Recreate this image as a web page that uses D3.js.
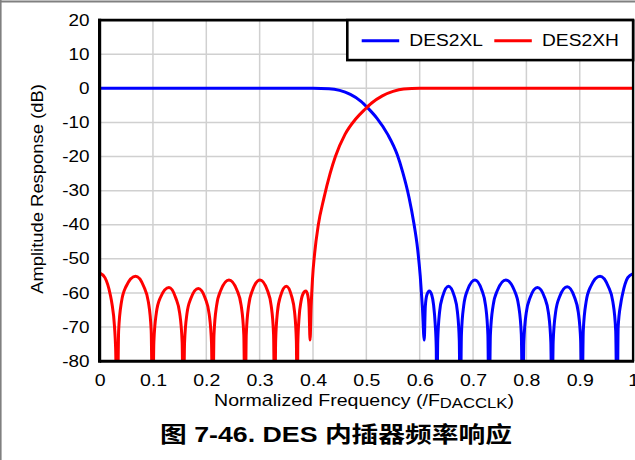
<!DOCTYPE html>
<html>
<head>
<meta charset="utf-8">
<script src="https://cdn.jsdelivr.net/npm/d3@7/dist/d3.min.js"></script>
<style>
  body { margin: 0; background: #fff; }
  svg { display: block; }
  text { font-family: "Liberation Sans", Arial, sans-serif; fill: #000; }
</style>
</head>
<body>
<div id="chart"></div>
<script>

// svg variables
var width = 635,
    height = 460;

var margin = {top: 20.1, right: 633.1, bottom: 361.2, left: 99.6};

// glyphs in the picture are a bit wider than Arial
var stretch = 1.15;

// data variables

var xTicks = [0, 0.1, 0.2, 0.3, 0.4, 0.5, 0.6, 0.7, 0.8, 0.9, 1];
var xLabels = ["0", "0.1", "0.2", "0.3", "0.4", "0.5", "0.6", "0.7", "0.8", "0.9", "1"];
var yTicks = [-80, -70, -60, -50, -40, -30, -20, -10, 0, 10, 20];
var yLabels = ["-80", "-70", "-60", "-50", "-40", "-30", "-20", "-10", "0", "10", "20"];

var seriesNames = ["DES2XL", "DES2XH"];
var seriesColors = ["#0000ff", "#ff0000"];

// DES2XL, [normalized freq, dB] (-100 = null below the axis)
var des2xl = [
  [0, 0], [0.1, 0], [0.2, 0], [0.3, 0], [0.4, 0], [0.43, -0.1], [0.45, -0.6],
  [0.47, -1.8], [0.49, -3.8], [0.503, -5.8], [0.52, -8.8], [0.54, -13.5],
  [0.558, -19.5], [0.568, -24.5], [0.58, -32], [0.589, -39.5], [0.596, -47],
  [0.601, -55], [0.605, -64], [0.6085, -73.8],
  [0.6105, -64], [0.6135, -60.5], [0.618, -59.4], [0.6225, -60.5], [0.626, -63.5], [0.629, -69], [0.631, -76], [0.632, -100],
  [0.6338, -74], [0.6373, -65.5], [0.643, -61], [0.654, -58], [0.665, -61], [0.6707, -65.5], [0.6742, -74], [0.676, -100],
  [0.6782, -72.2], [0.6825, -63.7], [0.6895, -59.2], [0.7035, -56.2], [0.7165, -59.2], [0.7235, -63.7], [0.7278, -72.2], [0.730, -100],
  [0.7325, -72.2], [0.7376, -63.7], [0.7458, -59.2], [0.7615, -56.2], [0.7773, -59.2], [0.7854, -63.7], [0.7905, -72.2], [0.793, -100],
  [0.7952, -74.4], [0.7996, -65.9], [0.8068, -61.4], [0.8207, -58.4], [0.8343, -61.4], [0.8414, -65.9], [0.8458, -74.4], [0.848, -100],
  [0.8502, -74.2], [0.8547, -65.7], [0.862, -61.2], [0.8765, -58.2], [0.890, -61.2], [0.8973, -65.7], [0.9018, -74.2], [0.904, -100],
  [0.9066, -71.1], [0.9119, -62.6], [0.9205, -58.1], [0.938, -55.1], [0.9535, -58.1], [0.9621, -62.6], [0.9674, -71.1], [0.970, -100],
  [0.972, -70], [0.977, -63], [0.98, -60.5], [0.99, -55.5], [1.0, -54.3]
];

// DES2XH
var des2xh = [
  [0, -54.1], [0.01, -55.5], [0.02, -60.5], [0.023, -63], [0.028, -70], [0.030, -76], [0.033, -100],
  [0.0357, -71], [0.041, -62.6], [0.0496, -58.1], [0.0675, -55.1], [0.0828, -58.1], [0.0914, -62.6], [0.0967, -71], [0.0994, -100],
  [0.1017, -74.4], [0.1063, -65.9], [0.1138, -61.4], [0.130, -58.4], [0.1426, -61.4], [0.1501, -65.9], [0.1547, -74.4], [0.157, -100],
  [0.1592, -74.7], [0.1636, -66.2], [0.1708, -61.7], [0.185, -58.7], [0.1983, -61.7], [0.2054, -66.2], [0.2098, -74.7], [0.212, -100],
  [0.2144, -72.2], [0.2193, -63.7], [0.2272, -59.2], [0.2425, -56.2], [0.2575, -59.2], [0.2654, -63.7], [0.2703, -72.2], [0.2727, -100],
  [0.2749, -72.2], [0.2794, -63.7], [0.2866, -59.2], [0.3006, -56.2], [0.3144, -59.2], [0.3216, -63.7], [0.3261, -72.2], [0.3283, -100],
  [0.3300, -74], [0.3334, -65.5], [0.3389, -61], [0.3500, -58], [0.3600, -61], [0.3654, -65.5], [0.3688, -74], [0.3705, -100],
  [0.3715, -75], [0.374, -67], [0.3775, -62.5], [0.3825, -59.9], [0.3865, -59.4], [0.390, -60.5], [0.3925, -64], [0.3945, -73.8],
  [0.3965, -64], [0.399, -56], [0.403, -48.5], [0.41, -40], [0.42, -32.5], [0.432, -25], [0.442, -20],
  [0.46, -13.5], [0.48, -9], [0.497, -6.2], [0.51, -4.3], [0.53, -2.2], [0.55, -0.9], [0.57, -0.2],
  [0.6, 0], [0.7, 0], [0.8, 0], [0.9, 0], [1, 0]
];

var x = d3.scaleLinear().domain([0, 1]).range([margin.left, margin.right]);
var y = d3.scaleLinear().domain([-80, 20]).range([margin.bottom, margin.top]);

var svg = d3.select("#chart")
  .append("svg")
  .attr("width", width)
  .attr("height", height);

// grey page frame (only top and left show)
svg.append("line").attr("x1", 0).attr("x2", width).attr("y1", 1.5).attr("y2", 1.5)
  .attr("stroke", "#808080").attr("stroke-width", 1.8);
svg.append("line").attr("x1", 0.8).attr("x2", 0.8).attr("y1", 0).attr("y2", height)
  .attr("stroke", "#808080").attr("stroke-width", 1.6);

// grid
var grid = svg.append("g").attr("class", "grid");
grid.selectAll(".vx")
  .data(xTicks)
  .enter().append("line")
  .attr("x1", function (d) { return x(d); })
  .attr("x2", function (d) { return x(d); })
  .attr("y1", margin.top)
  .attr("y2", margin.bottom)
  .attr("stroke", "#d0d0d0")
  .attr("stroke-width", 1.5);
grid.selectAll(".hy")
  .data(yTicks)
  .enter().append("line")
  .attr("x1", margin.left)
  .attr("x2", margin.right)
  .attr("y1", function (d) { return y(d); })
  .attr("y2", function (d) { return y(d); })
  .attr("stroke", "#d0d0d0")
  .attr("stroke-width", 1.5);

// clip for the curves
svg.append("clipPath").attr("id", "plotclip")
  .append("rect")
  .attr("x", margin.left)
  .attr("y", margin.top)
  .attr("width", margin.right - margin.left)
  .attr("height", margin.bottom - margin.top);

var line = d3.line()
  .x(function (d) { return x(d[0]); })
  .y(function (d) { return y(d[1]); })
  .curve(d3.curveMonotoneX);

var curves = svg.append("g").attr("clip-path", "url(#plotclip)");
[des2xl, des2xh].forEach(function (s, i) {
  curves.append("path")
    .datum(s)
    .attr("d", line)
    .attr("fill", "none")
    .attr("stroke", seriesColors[i])
    .attr("stroke-width", 3)
    .attr("stroke-linejoin", "round");
});

// plot frame
svg.append("line").attr("x1", margin.left - 1.5).attr("x2", margin.right + 1).attr("y1", margin.top).attr("y2", margin.top)
  .attr("stroke", "#000").attr("stroke-width", 2.6);
svg.append("line").attr("x1", margin.right).attr("x2", margin.right).attr("y1", margin.top).attr("y2", margin.bottom)
  .attr("stroke", "#000").attr("stroke-width", 2.4);
svg.append("line").attr("x1", margin.left).attr("x2", margin.left).attr("y1", margin.top - 1.3).attr("y2", margin.bottom + 1.5)
  .attr("stroke", "#000").attr("stroke-width", 3.2);
svg.append("line").attr("x1", margin.left).attr("x2", margin.right + 1).attr("y1", margin.bottom).attr("y2", margin.bottom)
  .attr("stroke", "#000").attr("stroke-width", 3);

// axes
var xAxis = svg.append("g")
  .attr("transform", "translate(0," + margin.bottom + ")")
  .call(d3.axisBottom(x)
    .tickValues(xTicks)
    .tickSize(0)
    .tickPadding(13)
    .tickFormat(function (d, i) { return xLabels[i]; }));
xAxis.select(".domain").remove();
xAxis.selectAll("text")
  .style("font-size", "17px")
  .style("font-family", "'Liberation Sans', Arial, sans-serif")
  .attr("fill", "#000")
  .attr("transform", "scale(" + stretch + ",1)");

var yAxis = svg.append("g")
  .attr("transform", "translate(" + margin.left + ",0)")
  .call(d3.axisLeft(y)
    .tickValues(yTicks)
    .tickSize(0)
    .tickPadding(8.5)
    .tickFormat(function (d, i) { return yLabels[i]; }));
yAxis.select(".domain").remove();
yAxis.selectAll("text")
  .style("font-size", "16px")
  .style("font-family", "'Liberation Sans', Arial, sans-serif")
  .attr("fill", "#000")
  .attr("transform", "scale(" + (stretch + 0.03) + ",1)");

// axis titles
var xt = svg.append("text")
  .attr("transform", "translate(364,405.7) scale(" + stretch + ",1)")
  .attr("text-anchor", "middle")
  .style("font-size", "17px");
xt.append("tspan").text("Normalized Frequency (/F");
xt.append("tspan").attr("dy", 2.6).style("font-size", "14.5px").text("DACCLK");
xt.append("tspan").attr("dy", -2.6).text(")");

svg.append("text")
  .attr("transform", "translate(42.7,189) rotate(-90) scale(" + stretch + ",1)")
  .attr("text-anchor", "middle")
  .style("font-size", "16px")
  .text("Amplitude Response (dB)");

// legend
var legend = svg.append("g");
legend.append("rect")
  .attr("x", 347.3)
  .attr("y", margin.top)
  .attr("width", margin.right - 347.3)
  .attr("height", 40)
  .attr("fill", "#fff")
  .attr("stroke", "#000")
  .attr("stroke-width", 2.6);
var legX = [361.7, 494.3];
var legTextX = [409.3, 542];
seriesNames.forEach(function (n, i) {
  legend.append("line")
    .attr("x1", legX[i]).attr("x2", legX[i] + 37.5)
    .attr("y1", 40.7).attr("y2", 40.7)
    .attr("stroke", seriesColors[i])
    .attr("stroke-width", 3);
  legend.append("text")
    .attr("transform", "translate(" + legTextX[i] + ",45.7) scale(1.13,1)")
    .style("font-size", "17px")
    .text(n);
});

// figure caption
svg.append("text")
  .attr("x", 160)
  .attr("y", 442)
  .attr("textLength", 352)
  .attr("lengthAdjust", "spacingAndGlyphs")
  .style("font-size", "22px")
  .style("font-weight", "bold")
  .style("font-family", "'Liberation Sans', 'Noto Sans CJK SC', sans-serif")
  .text("图 7-46. DES 内插器频率响应");

</script>
</body>
</html>
